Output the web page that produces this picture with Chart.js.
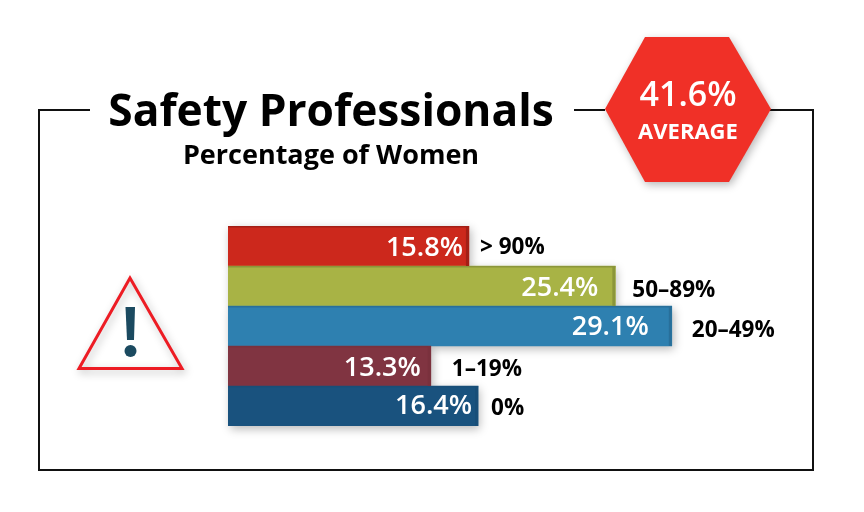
<!DOCTYPE html>
<html>
<head>
<meta charset="utf-8">
<title>Safety Professionals</title>
<script src="https://cdn.jsdelivr.net/npm/chart.js@4/dist/chart.umd.js"></script>
<style>
    html, body { margin: 0; padding: 0; background: #fff; }
    canvas { display: block; }
</style>
</head>
<body>
<canvas id="womenChart" width="864" height="512"></canvas>
<script>
const categories = ['> 90%', '50–89%', '20–49%', '1–19%', '0%'];
const shares = [15.8, 25.4, 29.1, 13.3, 16.4];
const barColors = ['#cc281c', '#a8b345', '#2e80b0', '#803441', '#19527e'];
const edgeColors = ['#a31f16', '#8b963a', '#286f9a', '#7a313d', '#184e78'];

const averageValue = '41.6%';
const averageLabel = 'AVERAGE';
const chartTitle = 'Safety Professionals';
const chartSubtitle = 'Percentage of Women';

// neither set of labels sits at an even distance from the bar ends in the original
const valueGaps = [6, 17, 23, 10, 6];
const valueShift = [2, 2, 1, 2, 0];
const labelGaps = [11, 17, 20, 21, 13];
const labelShift = [2, 5, 5, 4, 3];

const fontName = '"Open Sans", "Noto Sans", sans-serif';

function softShadow(ctx, on) {
    ctx.shadowColor = on ? 'rgba(0,0,0,0.28)' : 'transparent';
    ctx.shadowBlur = on ? 9 : 0;
    ctx.shadowOffsetX = on ? 2 : 0;
    ctx.shadowOffsetY = on ? 3 : 0;
}

function path(ctx, pts) {
    ctx.beginPath();
    pts.forEach(function(p, i) {
        if (i === 0) ctx.moveTo(p[0], p[1]);
        else ctx.lineTo(p[0], p[1]);
    });
    ctx.closePath();
}

const decorations = {
    id: 'decorations',
    beforeDatasetsDraw: function(chart) {
        const ctx = chart.ctx;
        ctx.save();

        // frame, open at the top for the title and the badge
        ctx.strokeStyle = '#111';
        ctx.lineWidth = 2;
        ctx.beginPath();
        ctx.moveTo(90, 110);
        ctx.lineTo(39, 110);
        ctx.lineTo(39, 470);
        ctx.lineTo(813, 470);
        ctx.lineTo(813, 110);
        ctx.lineTo(770, 110);
        ctx.moveTo(605, 110);
        ctx.lineTo(574, 110);
        ctx.stroke();

        // bar shadows
        softShadow(ctx, true);
        ctx.fillStyle = '#fff';
        chart.getDatasetMeta(0).data.forEach(function(bar) {
            ctx.fillRect(bar.base, bar.y - bar.height / 2, bar.x - bar.base, bar.height);
        });
        softShadow(ctx, false);

        // hexagon badge
        softShadow(ctx, true);
        ctx.fillStyle = '#f03027';
        path(ctx, [[605, 109], [645, 37], [729, 37], [771, 109], [729, 182], [645, 182]]);
        ctx.fill();
        softShadow(ctx, false);

        // warning triangle
        softShadow(ctx, true);
        ctx.strokeStyle = '#ed1c24';
        ctx.lineWidth = 3;
        path(ctx, [[130, 278], [79, 368.5], [182, 368.5]]);
        ctx.stroke();
        softShadow(ctx, false);

        ctx.fillStyle = '#1b4a60';
        path(ctx, [[125.5, 307], [135, 307], [134, 340], [127, 340]]);
        ctx.fill();
        ctx.beginPath();
        ctx.arc(130.5, 351, 6, 0, Math.PI * 2);
        ctx.fill();

        ctx.restore();
    },
    afterDatasetsDraw: function(chart) {
        const ctx = chart.ctx;
        ctx.save();

        chart.getDatasetMeta(0).data.forEach(function(bar, i) {
            const top = bar.y - bar.height / 2;

            // bevel on the top and right edges
            ctx.fillStyle = edgeColors[i];
            ctx.fillRect(bar.base, top, bar.x - bar.base, 1.5);
            ctx.fillRect(bar.x - 3, top, 3, bar.height);

            ctx.textBaseline = 'middle';
            ctx.textAlign = 'right';
            ctx.fillStyle = '#fff';
            ctx.font = '600 27px ' + fontName;
            ctx.fillText(shares[i].toFixed(1) + '%', bar.x - valueGaps[i], bar.y + valueShift[i]);

            ctx.textAlign = 'left';
            ctx.fillStyle = '#000';
            ctx.font = '700 22.5px ' + fontName;
            ctx.fillText(categories[i], bar.x + labelGaps[i], bar.y + labelShift[i]);
        });

        ctx.textAlign = 'center';
        ctx.textBaseline = 'middle';
        ctx.fillStyle = '#000';
        ctx.font = '700 44.3px ' + fontName;
        ctx.fillText(chartTitle, 331, 113);
        ctx.font = '700 27px ' + fontName;
        ctx.fillText(chartSubtitle, 331, 156);

        ctx.fillStyle = '#fff';
        ctx.font = '600 34px ' + fontName;
        ctx.fillText(averageValue, 688, 96);
        ctx.font = '700 22px ' + fontName;
        ctx.fillText(averageLabel, 688, 133);

        ctx.restore();
    }
};

new Chart(document.getElementById('womenChart').getContext('2d'), {
    type: 'bar',
    data: {
        labels: categories,
        datasets: [{
            data: shares,
            backgroundColor: barColors,
            categoryPercentage: 1,
            barPercentage: 1,
            borderWidth: 0
        }]
    },
    plugins: [decorations],
    options: {
        indexAxis: 'y',
        responsive: false,
        animation: false,
        layout: {
            padding: { left: 228, right: 26, top: 226, bottom: 86 }
        },
        plugins: {
            legend: { display: false },
            title: { display: false },
            tooltip: { enabled: false }
        },
        scales: {
            x: { display: false, min: 0, max: 40 },
            y: { display: false }
        }
    }
});
</script>
</body>
</html>
